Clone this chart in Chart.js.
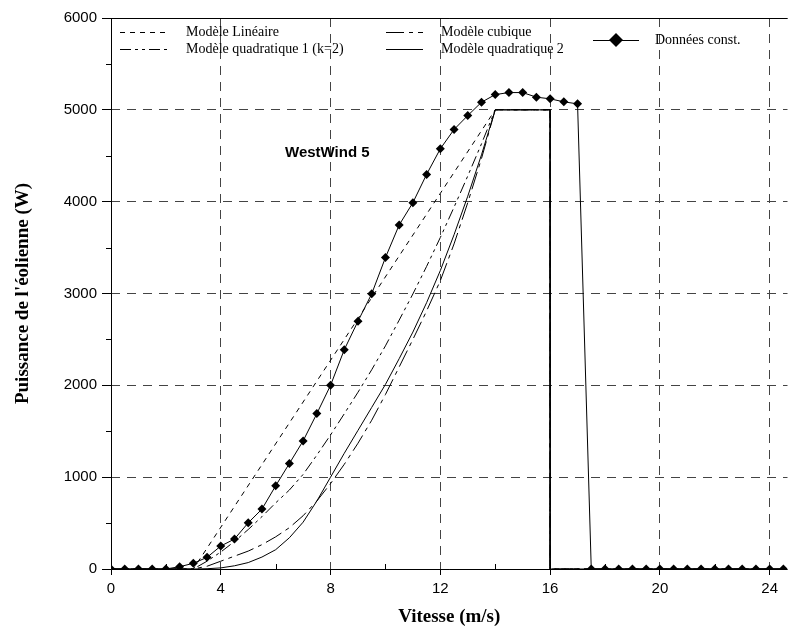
<!DOCTYPE html>
<html>
<head>
<meta charset="utf-8">
<script src="https://cdn.jsdelivr.net/npm/chart.js@4.4.0/dist/chart.umd.min.js"></script>
<style>
  html, body { margin: 0; padding: 0; background: #fff; }
  #wrap { width: 792px; height: 628px; }
</style>
</head>
<body>
<div id="wrap"><canvas id="courbe"></canvas></div>
<script>
// ----------------------------------------------------
// valeurs
const vMesure = [ 0, 0.5, 1, 1.5, 2, 2.5, 3, 3.5, 4, 4.5, 5, 5.5, 6, 6.5, 7, 7.5, 8, 8.5, 9, 9.5,
                  10, 10.5, 11, 11.5, 12, 12.5, 13, 13.5, 14, 14.5, 15, 15.5, 16, 16.5, 17, 17.5,
                  18, 18.5, 19, 19.5, 20, 20.5, 21, 21.5, 22, 22.5, 23, 23.5, 24, 24.5 ];
const pMesure = [ 0, 0, 0, 0, 0, 25, 62, 127, 250, 326, 503, 652, 906, 1149, 1395, 1692, 2000, 2388, 2699, 2997,
                  3391, 3746, 3989, 4297, 4576, 4786, 4938, 5083, 5166, 5188, 5188, 5138, 5120, 5087, 5065, 0,
                  0, 0, 0, 0, 0, 0, 0, 0, 0, 0, 0, 0, 0, 0 ];

const vLineaire = [ 0, 3, 14, 16, 16, 24.5 ];
const pLineaire = [ 0, 0, 5000, 5000, 0, 0 ];

const vModele = [ 0, 3, 3.5, 4, 4.5, 5, 5.5, 6, 6.5, 7, 7.5, 8, 8.5, 9, 9.5, 10, 10.5, 11, 11.5, 12,
                  12.5, 13, 13.5, 14, 16, 16, 24.5 ];
const pQuad1   = [ 0, 0, 85, 185, 300, 430, 570, 720, 860, 1030, 1240, 1460, 1690, 1925, 2170, 2430, 2710, 2995, 3295, 3610,
                   3940, 4280, 4630, 5000, 5000, 0, 0 ];
const pCubique = [ 0, 0, 30, 85, 140, 195, 265, 350, 450, 580, 740, 930, 1140, 1370, 1620, 1900, 2200, 2500, 2810, 3140,
                   3540, 3990, 4470, 5000, 5000, 0, 0 ];
const pQuad2   = [ 0, 0, 3, 12, 35, 70, 130, 210, 340, 510, 740, 1000, 1260, 1510, 1760, 2010, 2290, 2580, 2900, 3250,
                   3640, 4060, 4510, 5000, 5000, 0, 0 ];

const xTicks = [ 0, 4, 8, 12, 16, 20, 24 ];
const xMinor = [ 2, 6, 10, 14, 18, 22 ];
const yTicks = [ 0, 1000, 2000, 3000, 4000, 5000, 6000 ];
const yMinor = [ 500, 1500, 2500, 3500, 4500, 5500 ];
// ----------------------------------------------------
const pts = ( xs, ys ) => xs.map( ( v, i ) => ({ x: v, y: ys[ i ] }) );

const SERIF = '"Liberation Serif", "Times New Roman", serif';
const SANS = '"Liberation Sans", Arial, sans-serif';

const DASH_LIN = [ 5, 5 ];
const DASH_Q1 = [ 11, 4, 3, 4, 3, 4 ];
const DASH_CUB = [ 18, 5, 4, 5 ];

function ligne( label, data, dash ) {
    return {
        label: label,
        data: data,
        borderColor: '#000',
        borderWidth: 1,
        borderDash: dash,
        pointRadius: 0,
        tension: 0,
        fill: false
    };
}

// axes, petites graduations, légende et titre
const decor = {
    id: 'decor',
    afterDraw( chart ) {
        const ctx = chart.ctx;
        const a = chart.chartArea;
        const xs = chart.scales.x, ys = chart.scales.y;
        ctx.save();
        ctx.strokeStyle = '#000';
        ctx.lineWidth = 1;
        ctx.setLineDash( [] );
        ctx.beginPath();
        ctx.moveTo( a.left + 0.5, a.top );
        ctx.lineTo( a.left + 0.5, a.bottom + 0.5 );
        ctx.lineTo( a.right, a.bottom + 0.5 );
        ctx.moveTo( a.left, a.top + 0.5 );
        ctx.lineTo( a.right, a.top + 0.5 );
        xMinor.forEach( v => {
            const px = Math.round( xs.getPixelForValue( v ) ) + 0.5;
            ctx.moveTo( px, a.bottom );
            ctx.lineTo( px, a.bottom - 5 );
        });
        yMinor.forEach( v => {
            const py = Math.round( ys.getPixelForValue( v ) ) + 0.5;
            ctx.moveTo( a.left, py );
            ctx.lineTo( a.left - 5, py );
        });
        ctx.stroke();

        // légende
        ctx.font = '14px ' + SERIF;
        ctx.fillStyle = '#000';
        ctx.textBaseline = 'middle';
        const items = [
            { x0: 120, x1: 168, y: 32, dash: DASH_LIN, txt: 'Modèle Linéaire' },
            { x0: 120, x1: 168, y: 49, dash: DASH_Q1, txt: 'Modèle quadratique 1 (k=2)' },
            { x0: 386, x1: 423, y: 32, dash: DASH_CUB, txt: 'Modèle cubique' },
            { x0: 386, x1: 423, y: 49, dash: [], txt: 'Modèle quadratique 2' },
            { x0: 593, x1: 639, y: 40, dash: [], txt: 'Données const.', diamond: true }
        ];
        items.forEach( it => {
            ctx.setLineDash( it.dash );
            ctx.beginPath();
            ctx.moveTo( it.x0, it.y + 0.5 );
            ctx.lineTo( it.x1, it.y + 0.5 );
            ctx.stroke();
            ctx.setLineDash( [] );
            if ( it.diamond ) {
                const cx = ( it.x0 + it.x1 ) / 2, r = 7;
                ctx.beginPath();
                ctx.moveTo( cx, it.y - r );
                ctx.lineTo( cx + r, it.y );
                ctx.lineTo( cx, it.y + r );
                ctx.lineTo( cx - r, it.y );
                ctx.closePath();
                ctx.fill();
            }
            ctx.fillText( it.txt, it.x1 + ( it.diamond ? 16 : 18 ), it.y );
        });

        ctx.font = 'bold 15px ' + SANS;
        ctx.fillText( 'WestWind 5', 285, 153 );
        ctx.restore();
    }
};

const config = {
    type: 'line',
    data: {
        datasets: [
            ligne( 'Modèle Linéaire', pts( vLineaire, pLineaire ), DASH_LIN ),
            ligne( 'Modèle quadratique 1 (k=2)', pts( vModele, pQuad1 ), DASH_Q1 ),
            ligne( 'Modèle cubique', pts( vModele, pCubique ), DASH_CUB ),
            ligne( 'Modèle quadratique 2', pts( vModele, pQuad2 ), [] ),
            {
                label: 'Données const.',
                data: pts( vMesure, pMesure ),
                borderColor: '#000',
                backgroundColor: '#000',
                borderWidth: 1,
                pointStyle: 'rectRot',
                pointRadius: 4.5,
                pointBorderWidth: 0,
                tension: 0,
                fill: false
            }
        ]
    },
    options: {
        responsive: true,
        maintainAspectRatio: false,
        animation: false,
        layout: { padding: { top: 18, right: 0, left: 0, bottom: 0 } },
        plugins: { legend: { display: false }, tooltip: { enabled: false } },
        scales: {
            x: {
                type: 'linear',
                min: 0,
                max: 24.65,
                afterBuildTicks: s => { s.ticks = xTicks.map( v => ({ value: v }) ); },
                afterFit: s => { s.height = 59; },
                border: { display: false, dash: [ 9, 7 ] },
                grid: { color: '#444', lineWidth: 1, borderDash: [ 9, 7 ], tickLength: 6,
                        tickColor: '#000', tickBorderDash: [] },
                ticks: { color: '#000', font: { family: SANS, size: 15 }, maxRotation: 0, padding: 5,
                         callback: v => String( v ) },
                title: { display: true, text: 'Vitesse (m/s)', color: '#000',
                         font: { family: SERIF, size: 19, weight: 'bold' }, padding: { top: 0, bottom: 0 } }
            },
            y: {
                min: 0,
                max: 6000,
                afterBuildTicks: s => { s.ticks = yTicks.map( v => ({ value: v }) ); },
                afterFit: s => { s.width = 111; },
                border: { display: false, dash: [ 9, 7 ] },
                grid: { color: '#444', lineWidth: 1, borderDash: [ 9, 7 ], tickLength: 9,
                        tickColor: '#000', tickBorderDash: [] },
                ticks: { color: '#000', font: { family: SANS, size: 15 }, padding: 5,
                         callback: v => String( v ) },
                title: { display: true, text: "Puissance de l'éolienne (W)", color: '#000',
                         font: { family: SERIF, size: 19, weight: 'bold' }, padding: { top: 12, bottom: 0 } }
            }
        }
    },
    plugins: [ decor ]
};

new Chart( document.getElementById( 'courbe' ), config );
</script>
</body>
</html>
